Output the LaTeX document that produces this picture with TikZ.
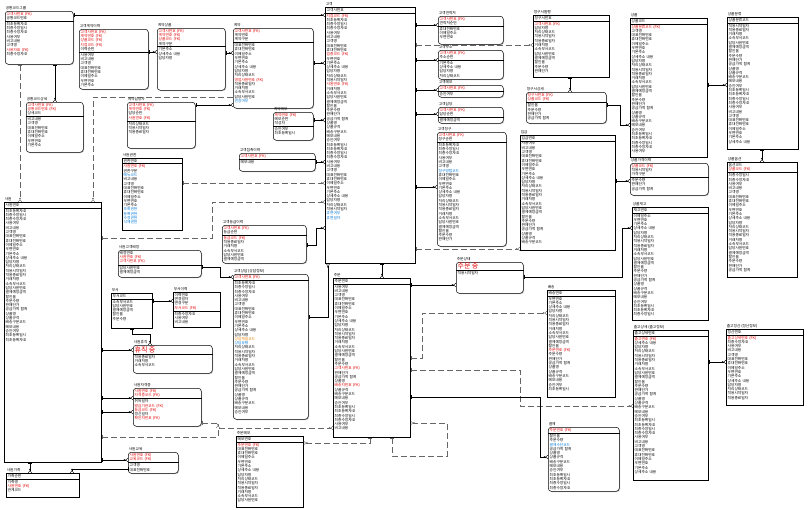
\documentclass[tikz,border=0pt]{standalone}
\usepackage{fontspec}
\setmainfont{Noto Sans CJK KR}
\usetikzlibrary{arrows.meta,shadows}

\definecolor{fkred}{RGB}{226,0,0}
\definecolor{attblue}{RGB}{0,120,215}
\definecolor{attorange}{RGB}{230,130,0}
\setlength{\parindent}{0pt}
\setlength{\parskip}{0pt}

\newcommand{\erfont}{\fontsize{3.7}{4.3}\selectfont}
\newcommand{\fk}[1]{\textcolor{fkred}{#1 (FK)}}
\newcommand{\blu}[1]{\textcolor{attblue}{#1}}
\newcommand{\bigkey}[1]{{\fontsize{7}{8}\selectfont\textcolor{fkred}{#1}}}
% attribute names, picked in turn
\newcommand{\fld}[1]{\ifcase#1\relax 최초등록일시\or 최초등록자ID\or 최종수정일시\or 최종수정자ID\or 사용여부\or 비고내용\or 고객명\or 대표전화번호\or 휴대전화번호\or 이메일주소\or 우편번호\or 기본주소\or 상세주소 내용\or 담당자명\or 처리상태코드\or 적용시작일자\or 적용종료일자\or 거래처명\or 소속부서코드\or 담당사원번호\or 결제예정금액\or 할인율\or 주문수량\or 판매단가\or 공급가액 합계\or 상품명\or 상품규격\or 배송구분코드\or 메모내용\or 승인여부\fi}
\newcommand{\rows}[2]{\foreach \rw in {1,...,#1}{\pgfmathtruncatemacro{\rowidx}{mod(\rw+#2,30)}\fld{\rowidx}\par}}
% box, title, key part, line, attribute part
\newcommand{\entity}[8][]{%
	\node [ent, #1, minimum width=#4, minimum height=#5] (#2) at (#3) {};
	\node [enttitle] (#2-t) at (#2.north west) {#6};
	\node [entkey] (#2-h) at (#2.north west) {#7};
	\draw [entsep] (#2.west |- #2-h.south) -- (#2.east |- #2-h.south);
	\node [entatt] (#2-b) at (#2.west |- #2-h.south) {#8};
}

\begin{document}
\begin{tikzpicture}
	[x=1pt, y=-1pt,
		ent/.style			={rectangle
									, draw
									, line width=0.5pt
									, fill=white
									, drop shadow={shadow xshift=0.8pt, shadow yshift=-0.8pt, fill=black!45}
									, inner sep=0pt
									, anchor=north west
									},
		dep/.style			={rounded corners=3pt},
		enttitle/.style		={anchor=south west
									, inner sep=0.6pt
									, font=\erfont
									},
		entkey/.style		={anchor=north west
									, text width=72pt
									, align=left
									, inner xsep=1.5pt
									, inner ysep=1pt
									, font=\erfont
									},
		entatt/.style		={entkey},
		entsep/.style		={line width=0.4pt},
		rel/.style			={draw
									, line width=0.4pt
									, {Bar[width=3.6pt]}-{Circle[open,length=1.8pt,width=1.8pt]Straight Barb[reversed,length=2pt,width=3.6pt]}
									},
		nonid/.style		={rel
									, draw=black!60
									, dash pattern=on 6pt off 3pt
									}
	]
\fill [white] (0,0) rectangle (811,509);
\useasboundingbox (0,0) rectangle (811,509);

% top left
\entity[dep]{e1}{5,11}{68}{53}{공통코드그룹}{\fk{고객사번호}\par 공통코드번호}{\rows{6}{0}\fk{사용자ID}\par\rows{1}{2}}
\entity[dep]{e2}{79,29}{69}{60}{고객계약이력}{\fk{고객사번호}\par\fk{계약번호}\par\fk{상품코드}\par\fk{지점코드}\par 이력순번}{\rows{8}{3}}
\entity[dep]{e3}{157,28}{68}{62}{계약상품}{\fk{고객사번호}\par\fk{계약번호}\par\fk{상품코드}\par 계약구분}{\rows{3}{10}}
\entity[dep]{e4}{26,102}{57}{50}{공통코드상세}{\fk{고객사번호}\par\fk{공통코드번호}\par 상세코드}{\rows{7}{4}}
\entity[dep]{e5}{127,102}{68}{46}{계약담당자}{\fk{고객사번호}\par\fk{계약번호}\par 담당순번\par\fk{사원번호}}{\rows{3}{13}}
\entity[dep]{e6}{233,28}{80}{80}{계약}{\fk{고객사번호}\par 계약번호\par 계약구분}{\rows{8}{6}\fk{영업사원번호}\par\rows{4}{15}\blu{연장여부}}
\entity[dep]{e8}{273,112}{40}{28}{계약메모}{\fk{계약번호}\par 메모순번\par 작성자}{\rows{2}{28}}

% centre
\entity{e7}{325,7}{90}{256}{고객}{고객사번호}{\fk{지점코드}\par\rows{8}{0}\fk{업종코드}\par\rows{6}{9}\fk{사원번호}\par\rows{29}{16}\blu{휴면여부}\par\blu{휴면일자}}
\entity[dep]{e9}{438,16}{65}{28}{고객연락처}{\fk{고객사번호}\par 연락처순번}{\rows{3}{7}}
\entity[dep]{e10}{438,50}{65}{29}{고객주소}{\fk{고객사번호}\par 주소순번}{\rows{4}{10}}
\entity[dep]{e11}{438,85}{65}{12}{고객메모}{\fk{고객사번호}}{\rows{1}{28}}
\entity[dep]{e12}{438,107}{65}{16}{고객담당}{\fk{고객사번호}\par 담당순번}{\rows{1}{19}}
\entity[dep]{e13}{437,132}{69}{114}{고객청구}{\fk{고객사번호}\par 청구순번}{\rows{6}{0}\blu{청구방법코드}\par\rows{16}{7}}

% top right
\entity{e14}{533,15}{76}{62}{청구서발행}{청구서번호}{\fk{고객사번호}\par\rows{11}{12}}
\entity[dep]{e15}{526,92}{80}{31}{청구서상세}{\fk{청구서번호}\par\fk{상품코드}}{\rows{4}{20}}
\entity{e16}{520,135}{95}{115}{입금}{입금번호}{\rows{24}{3}}
\entity{e17}{630,18}{77}{139}{상품}{상품코드}{\fk{상품분류코드}\par\rows{29}{5}}
\entity[dep]{e18}{630,163}{78}{32}{상품가격이력}{\fk{상품코드}\par 적용시작일자\par 가격구분}{\rows{3}{21}}
\entity{e19}{632,207}{76}{113}{상품재고}{재고번호}{\rows{24}{8}}
\entity{e20}{633,330}{75}{150}{출고상세 (출고정보)}{출고상세번호}{\fk{출고번호}\par\rows{31}{11}}
\entity{e21}{726,329}{77}{76}{출고정산 (정산정보)}{정산번호}{\fk{출고상세번호}\par\rows{14}{2}}
\entity{e22}{727,17}{71}{132}{상품분류}{상품분류코드}{\rows{28}{14}}
\entity{e23}{727,162}{70}{115}{상품옵션}{옵션코드\par\fk{상품코드}}{\rows{23}{1}}

% left
\entity{e24}{4,202}{97}{260}{사원}{사원번호}{\rows{31}{0}}
\entity{e25}{122,158}{60}{72}{사원권한}{권한번호}{\fk{사원번호}\par 권한구분\par\blu{메뉴코드}\par\rows{7}{4}\blu{조회권한}\par\blu{등록권한}\par\blu{수정권한}\par\blu{삭제권한}}
\entity[dep]{e26}{239,153}{76}{18}{고객접촉이력}{\fk{고객사번호}}{\rows{1}{27}}
\entity[dep]{e27}{222,225}{84}{38}{고객등급이력}{\fk{고객사번호}\par 등급순번}{\fk{등급코드}\par\rows{5}{15}}
\entity[dep]{e28}{118,250}{83}{27}{사원고객배정}{배정번호\par\fk{사원번호}\par\fk{고객사번호}}{\rows{2}{18}}
\entity{e29}{111,293}{41}{35}{부서}{부서코드}{\rows{5}{17}}
\entity{e30}{173,292}{47}{35}{부서이력}{이력번호\par 변경일자\par 변경구분\par\fk{부서코드}}{\rows{3}{2}}
\entity[dep]{e31}{133,345}{79}{28}{사원휴직}{\bigkey{휴직 중}}{\rows{3}{15}}
\entity[dep]{e32}{133,388}{68}{38}{사원자격증}{\fk{사원번호}\par\fk{자격증코드}}{취득일자\par\fk{발급기관코드}\par\fk{등급코드}\par 갱신일자\par\fk{확인자번호}}
\entity[dep]{e33}{128,452}{50}{21}{사원교육}{\fk{사원번호}\par\fk{교육코드}}{\rows{2}{5}}
\entity{e34}{6,473}{73}{24}{사원가족}{가족순번}{가족명\par\fk{사원번호}\par 관계코드}

% bottom middle
\entity[dep]{e35}{233,274}{75}{145}{고객상담 (상담정보)}{\fk{고객사번호}}{\rows{13}{0}\textcolor{attorange}{상담채널코드}\par\blu{상담유형}\par\rows{16}{13}}
\entity{e36}{333,278}{77}{159}{주문}{주문번호}{\rows{19}{3}\fk{고객사번호}\par\rows{3}{22}\fk{배송지번호}\par\rows{10}{25}}
\entity{e37}{236,436}{67}{71}{주문메모}{메모번호}{\fk{주문번호}\par\rows{13}{6}}
\entity[dep]{e38}{456,262}{67}{31}{주문상태}{\bigkey{주문 중}}{\rows{1}{14}}
\entity{e39}{547,290}{68}{107}{배송}{배송번호}{\rows{12}{9}\fk{주문번호}\par\rows{9}{21}}
\entity[dep]{e40}{548,427}{71}{64}{결제}{\fk{주문번호}}{\rows{2}{20}\blu{결제수단코드}\par\rows{10}{23}}

% relationships
\path [rel]		(e1.east |- 0,15)	-- (e7.west |- 0,15);
\path [rel]		(e2.east |- 0,52)	-- (e3.west |- 0,52);
\path [rel]		(e3.east |- 0,53)	-- (e6.west |- 0,53);
\path [rel]		(e6.east |- 0,63)	-- (e7.west |- 0,63);
\path [rel]		(e1.south -| 55,0)	-- (e4.north -| 55,0);
\path [nonid]	(e1.south -| 20,0)	-- (e24.north -| 20,0);
\path [nonid]	(e6.west |- 0,97)	-| (e24.north -| 93,0);
\path [rel]		(e5.east |- 0,105)	-- (e6.west |- 0,105);
\path [rel]		(e8.east |- 0,120)	-- (e7.west |- 0,120);
\path [rel]		(e26.east |- 0,162)	-- (e7.west |- 0,162);
\path [nonid]	(e25.east |- 0,183)	-- (e7.west |- 0,183);
\path [nonid]	(e24.east |- 0,238)	-| (212,202) -- (e7.west |- 0,202);
\path [rel]		(e27.east |- 0,245)	-| (316,228) -- (e7.west |- 0,228);
\path [rel]		(e7.east |- 0,25)	-- (e9.west |- 0,25);
\path [rel]		(e7.east |- 0,60)	-- (e10.west |- 0,60);
\path [rel]		(e7.east |- 0,90)	-- (e11.west |- 0,90);
\path [rel]		(e7.east |- 0,114)	-- (e12.west |- 0,114);
\path [rel]		(e7.east |- 0,187)	-- (e13.west |- 0,187);
\path [nonid]	(e7.east |- 0,45)	-- (e14.west |- 0,45);
\path [nonid]	(e7.east |- 0,249)	-- (e16.west |- 0,249);
\path [rel]		(e14.south -| 570,0)	-- (e15.north -| 570,0);
\path [rel]		(e15.east |- 0,105)	-| (620,125) -- (e17.west |- 0,125);
\path [rel]		(e17.east |- 0,85)	-- (e22.west |- 0,85);
\path [rel]		(e22.south -| 762,0)	-- (e23.north -| 762,0);
\path [rel]		(e16.east |- 0,181)	-- (e18.west |- 0,181);
\path [rel]		(e38.east |- 0,277)	-| (622,228) -- (e19.west |- 0,228);
\path [rel]		(e20.east |- 0,362)	-- (e21.west |- 0,362);
\path [rel]		(e7.south -| 382,0)	-- (e36.north -| 382,0);
\path [rel]		(e35.east |- 0,317)	-| (e7.south -| 328,0);
\path [rel]		(e28.east |- 0,267)	-| (220,277) -- (e35.west |- 0,277);
\path [rel]		(e36.east |- 0,285)	-- (e38.west |- 0,285);
\path [nonid]	(e36.east |- 0,358)	-| (422,313) -- (e39.west |- 0,313);
\path [nonid]	(e36.east |- 0,370)	-| (520,406) -- (e20.west |- 0,406);
\path [rel]		(e36.east |- 0,397)	-| (540,457) -- (e40.west |- 0,457);
\path [nonid]	(e36.south -| 392,0)	-- (392,456) -| (447,423) -- (e36.east |- 0,423);
\path [nonid]	(e36.south -| 370,0)	|- (e37.east |- 0,443);
\path [rel]		(e24.east |- 0,350)	-- (e31.west |- 0,350);
\path [rel]		(e24.east |- 0,398)	-- (e32.west |- 0,398);
\path [rel]		(e24.east |- 0,412)	-- (e32.west |- 0,412);
\path [nonid]	(e24.east |- 0,437)	-| (218,428) -- (e36.west |- 0,428);
\path [nonid]	(e32.east |- 0,423)	-| (218,428);
\path [rel]		(e24.east |- 0,460)	-- (e33.west |- 0,460);
\path [rel]		(e24.south -| 30,0)	-- (e34.north -| 30,0);
\path [rel]		(e33.west |- 0,469)	-| (e34.north -| 72,0);
\path [rel]		(e29.east |- 0,301)	-- (e30.west |- 0,301);
\path [rel]		(e29.south -| 132,0)	|- (150,334) -- (e31.north -| 150,0);
\end{tikzpicture}
\end{document}
